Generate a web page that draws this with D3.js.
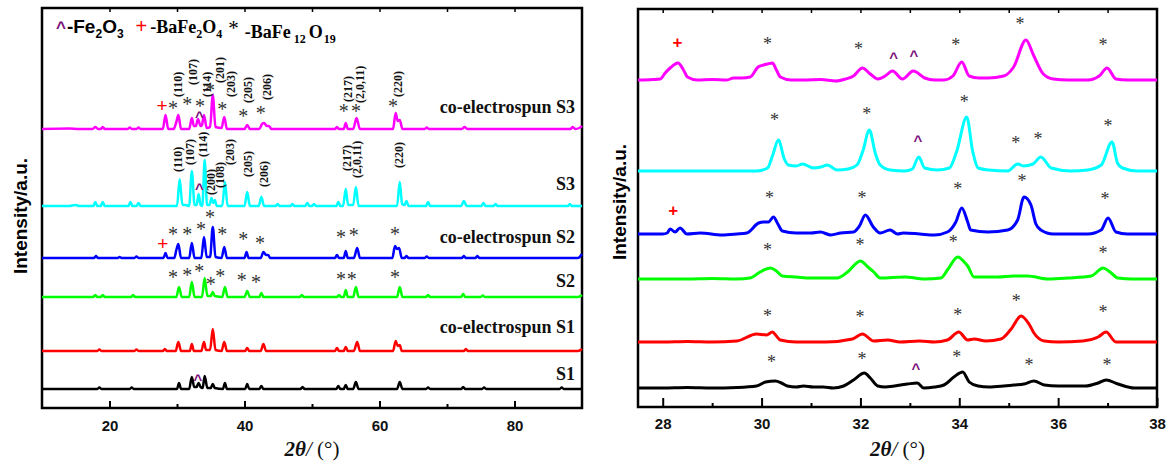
<!DOCTYPE html>
<html>
<head>
<meta charset="utf-8">
<script src="https://cdn.jsdelivr.net/npm/d3@7"></script>
<style>
  body { margin: 0; background: #fff; }
  svg { display: block; }
</style>
</head>
<body>
<div id="xrd"></div>
<script>
// ---- data: [2theta, intensity above the trace baseline] ----
var wideS3  = [[10,0],[14,0.5],[15.5,0],[17.5,0],[17.9,2],[18.3,0],[18.7,0],[19,2],[19.3,0],[22.7,0],[23,1.5],[23.3,0],[24,0],[24.3,1.5],[24.6,0],[27.9,0],[28.3,14],[28.7,0],[29.5,0],[29.9,7],[30.2,14],[30.6,0],[31.8,0],[32.2,11],[32.5,3],[32.8,3],[33.1,10],[33.5,3],[33.7,4],[34.0,14],[34.4,1],[34.9,2],[35.3,34],[35.7,2],[36.6,1],[37.0,12],[37.4,0],[40.0,0],[40.4,4],[40.8,0],[42.2,0],[42.6,5],[42.9,6],[43.3,3],[43.6,3],[44,0],[53.4,0],[53.7,2],[54.0,0],[54.7,0],[55.0,6],[55.3,0],[56.1,0],[56.6,11],[57.1,0],[62.0,0],[62.4,16],[62.7,8],[63.0,9],[63.4,0],[66.7,0],[67,1.5],[67.3,0],[72.2,0],[72.6,2],[73,0],[88.3,0],[88.6,2],[89,0],[89.6,1],[90,3]];
var wideS3p = [[10,0],[14,0],[15,1],[15.5,0],[17.6,0],[17.9,4],[18.2,0],[18.7,0],[19.0,4],[19.3,0],[22.8,0],[23.1,4],[23.4,0],[24.0,0],[24.3,3],[24.6,0],[30.0,0],[30.4,27],[30.8,1],[31.3,1],[31.8,0],[32.2,35],[32.6,1],[32.9,1],[33.2,12],[33.5,1],[33.75,0],[34.1,46],[34.45,1],[34.8,1],[35.1,8],[35.35,3],[35.6,6],[35.9,0],[36.7,0],[37.1,24],[37.5,0],[40.0,0],[40.4,14],[40.8,0],[42.1,0],[42.5,9],[42.9,0],[44.6,0],[44.9,2],[45.2,0],[46.8,0],[47.1,2],[47.4,0],[49.0,0],[49.3,3],[49.6,0],[50.0,0],[50.3,2],[50.6,0],[53.6,0],[53.9,4],[54.2,0],[54.6,0],[55.0,17],[55.35,1],[56.1,1],[56.5,19],[56.9,0],[62.6,0],[63.0,24],[63.35,2],[63.7,1],[64.0,5],[64.3,0],[66.9,0],[67.2,4],[67.5,0],[72.1,0],[72.5,5],[72.9,0],[75.1,0],[75.4,3],[75.7,0],[76.9,0],[77.2,2],[77.5,0],[87.9,0],[88.2,2],[88.5,0],[90,0]];
var wideS2  = [[10,0],[17.7,0],[18,2],[18.3,0],[21.2,0],[21.5,1],[21.8,0],[23.7,0],[24,1.5],[24.3,0],[28.0,0],[28.3,5],[28.6,0],[29.6,0],[29.9,8],[30.2,14],[30.6,0],[31.8,0],[32.2,15],[32.6,0],[33.6,0],[34.0,21],[34.4,1],[34.9,1],[35.3,31],[35.7,1],[36.6,0],[37.0,11],[37.4,0],[40.0,0],[40.3,6],[40.6,0],[42.4,0],[42.8,6],[43.2,3],[43.5,3],[43.8,0],[53.4,0],[53.7,3],[54.0,0],[54.7,0],[55.0,7],[55.3,0],[56.2,0],[56.7,10],[57.1,0],[61.9,0],[62.3,12],[62.6,9],[62.9,10],[63.3,0],[63.7,0],[64,2],[64.3,0],[66.7,0],[67,1.5],[67.3,0],[72.2,0],[72.5,2],[72.8,0],[74.2,0],[74.5,2],[74.8,0],[89.4,0],[90,4]];
var wideS2p = [[10,0],[17.6,0],[17.9,2],[18.2,0],[18.7,0],[19,2],[19.3,0],[23.2,0],[23.5,2],[23.8,0],[29.9,0],[30.3,10],[30.7,0],[31.8,0],[32.2,15],[32.6,0],[33.7,0],[34.1,19],[34.5,1],[35.0,1],[35.3,5],[35.6,1],[36.7,0],[37.1,10],[37.5,0],[40.0,0],[40.4,6],[40.8,0],[42.2,0],[42.5,4],[42.8,0],[48.2,0],[48.5,2],[48.8,0],[53.7,0],[54.0,2],[54.3,0],[54.7,0],[55.0,7],[55.3,0],[56.1,0],[56.5,10],[56.9,0],[62.6,0],[63.0,10],[63.4,0],[66.9,0],[67.2,2],[67.5,0],[72.1,0],[72.4,3],[72.7,0],[75.0,0],[75.3,1.5],[75.6,0],[89.4,0],[90,2]];
var wideS1  = [[10,0],[18.2,0],[18.5,1.5],[18.8,0],[23.7,0],[24,1.5],[24.3,0],[27.9,0],[28.2,2],[28.5,0],[29.8,0],[30.2,9],[30.6,0],[31.9,0],[32.2,7],[32.5,0],[33.6,0],[34.0,9],[34.3,1],[34.9,1],[35.3,22],[35.7,1],[36.6,0],[37.0,9],[37.4,0],[40.1,0],[40.4,3],[40.7,0],[42.4,0],[42.8,7],[43.2,0],[53.4,0],[53.7,3],[54.0,0],[54.7,0],[55.0,4],[55.3,0],[56.2,0],[56.7,9],[57.1,0],[62.0,0],[62.4,10],[62.7,5],[63.0,6],[63.3,0],[72.5,0],[72.8,2],[73.1,0],[89.4,0],[90,2]];
var wideS1p = [[10,0],[18.2,0],[18.5,1.5],[18.8,0],[23.0,0],[23.3,1.5],[23.6,0],[30.0,0],[30.3,6],[30.6,0],[31.8,0],[32.2,12],[32.55,2],[32.9,2],[33.2,6],[33.5,2],[33.8,1],[34.1,13],[34.5,1],[35.0,1],[35.3,5],[35.6,1],[36.8,0],[37.1,6],[37.4,0],[40.1,0],[40.4,5],[40.7,0],[42.2,0],[42.5,3],[42.8,0],[48.3,0],[48.6,2],[48.9,0],[53.6,0],[53.9,3],[54.2,0],[54.7,0],[55.0,4],[55.3,0],[56.1,0],[56.5,7],[56.9,0],[62.6,0],[63.0,7],[63.4,0],[66.9,0],[67.2,1.5],[67.5,0],[72.1,0],[72.4,2],[72.7,0],[75.2,0],[75.5,1.5],[75.8,0],[86.7,0],[87.0,1.5],[87.3,0],[90,0]];

var zoomS3  = [[27.5,0],[27.8,0.5],[27.95,1],[28.05,7],[28.15,12],[28.31,17],[28.42,10],[28.5,3],[28.7,0],[29.0,0.5],[29.3,0],[29.43,2],[29.6,2],[29.77,3],[29.93,13],[30.04,15],[30.12,16],[30.22,17],[30.3,10],[30.38,3],[30.6,0],[30.85,0],[31.2,0.5],[31.5,-1],[31.7,1],[31.86,4],[32.04,12],[32.2,6],[32.35,1],[32.5,4],[32.65,9],[32.85,1],[33.07,9],[33.3,2],[33.5,0],[33.69,0],[33.87,4],[34.05,18],[34.2,4],[34.4,2],[34.58,2],[34.9,4],[35.1,13],[35.35,40],[35.5,25],[35.7,6],[35.9,1],[36.2,0],[36.6,0],[36.83,4],[36.99,12],[37.17,1],[37.4,0],[38,0]];
var zoomS3p = [[27.5,0],[29.0,0],[29.9,0],[30.12,3],[30.22,15],[30.34,31],[30.46,12],[30.54,6],[30.7,5],[30.83,7],[31.05,3],[31.2,4],[31.33,6],[31.53,1],[31.75,2],[31.93,6],[32.05,20],[32.18,41],[32.3,18],[32.4,6],[32.6,1],[32.9,0],[33.05,2],[33.18,14],[33.3,3],[33.56,1],[33.8,3],[33.95,20],[34.15,54],[34.27,20],[34.38,3],[34.6,1],[34.98,0],[35.18,7],[35.3,5],[35.49,7],[35.65,14],[35.86,3],[36.26,0],[36.6,1],[36.87,6],[37.09,29],[37.2,8],[37.3,3],[37.6,0],[38,0]];
var zoomS2  = [[27.5,0],[28.0,0],[28.09,1],[28.15,5],[28.25,2],[28.35,6],[28.49,0],[28.76,1],[29.2,-1],[29.5,0],[29.7,1],[29.94,11],[30.04,12],[30.14,12],[30.24,17],[30.33,10],[30.42,3],[30.7,1],[31.0,1],[31.19,2],[31.4,-1],[31.6,1],[31.86,2],[31.98,8],[32.1,19],[32.26,7],[32.4,1],[32.6,4],[32.75,0],[32.87,1],[33.2,0],[33.5,-1],[33.76,2],[33.93,12],[34.05,26],[34.17,12],[34.23,4],[34.58,2],[34.98,4],[35.18,14],[35.31,37],[35.45,29],[35.55,10],[35.65,4],[35.9,0],[36.3,0],[36.6,0],[36.87,4],[37.01,16],[37.17,2],[37.4,0],[38,0]];
var zoomS2p = [[27.5,0],[28.5,0],[29.0,0.5],[29.5,0],[29.77,1],[29.97,7],[30.18,11],[30.3,8],[30.42,3],[30.7,2],[31.0,1],[31.25,1],[31.53,1],[31.74,7],[32.0,18],[32.15,12],[32.27,7],[32.4,1],[32.9,2],[33.3,0],[33.63,1],[33.76,9],[33.97,22],[34.1,17],[34.17,13],[34.3,2],[34.78,2],[35.1,3],[35.38,3],[35.8,0],[36.2,1],[36.67,3],[36.91,11],[37.05,7],[37.21,1],[37.5,0],[38,0]];
var zoomS1  = [[27.5,0],[28.0,0],[28.5,0.5],[29.0,0],[29.5,1],[29.9,8],[30.1,7],[30.22,10],[30.3,6],[30.38,2],[30.7,0],[31.3,0],[31.84,3],[32.04,8],[32.27,1],[32.55,2],[32.8,0],[33.2,1],[33.5,0],[33.76,2],[33.99,10],[34.17,2],[34.3,3],[34.54,1],[34.84,3],[35.05,13],[35.25,26],[35.41,18],[35.51,9],[35.72,1],[36.0,0],[36.5,1],[36.81,5],[36.97,10],[37.17,0],[37.5,0],[38,0]];
var zoomS1p = [[27.5,0],[28.0,0],[28.5,0.5],[29.0,0],[29.5,0.5],[29.9,2],[30.08,6],[30.28,7],[30.4,5],[30.52,2],[30.7,1],[30.85,2],[31.05,1],[31.25,1],[31.45,0],[31.66,2],[31.86,8],[32.08,15],[32.2,10],[32.35,2],[32.5,1],[32.95,4],[33.15,5],[33.28,0],[33.5,1],[33.69,3],[33.89,11],[34.07,16],[34.2,6],[34.38,2],[34.6,1],[34.9,2],[35.1,3],[35.31,4],[35.51,7],[35.72,3],[36.0,2],[36.26,2],[36.55,2],[36.81,5],[36.97,8],[37.21,4],[37.54,0],[38,0]];

var sampleNames = ["co-electrospun S3", "S3", "co-electrospun S2", "S2", "co-electrospun S1", "S1"];
var wideSeries = [wideS3, wideS3p, wideS2, wideS2p, wideS1, wideS1p];
var zoomSeries = [zoomS3, zoomS3p, zoomS2, zoomS2p, zoomS1, zoomS1p];

// phase marks: [trace index, 2theta, height above trace baseline]
var wideStars = [[0,29.4,23],[0,31.5,27],[0,33.4,25],[0,34.9,41],[0,36.7,22],[0,39.8,15],[0,42.4,18],[0,54.7,20],[0,56.5,20],[0,62.0,25],
  [2,29.4,26],[2,31.5,26],[2,33.55,31],[2,34.9,43],[2,36.7,26],[2,39.8,21],[2,42.3,17],[2,54.3,23],[2,56.2,25],[2,62.3,26],
  [3,29.4,22],[3,31.5,24],[3,33.3,28],[3,35.0,15],[3,36.4,23],[3,39.6,19],[3,41.7,17],[3,54.3,20],[3,55.9,20],[3,62.3,22]];
var wideCarets = [[0,33.3,15],[1,33.3,20],[5,33.1,12]];
var widePlus = [[0,27.8,24],[2,27.9,15]];
// hkl labels: [trace index, label, 2theta, height of label foot above baseline]
var hklLabels = [[0,"(110)",30.15,32],[0,"(107)",32.4,44],[0,"(114)",34.4,32],[0,"(201)",36.4,46],[0,"(203)",38.0,32],[0,"(205)",40.5,26],[0,"(206)",43.3,29],[0,"(217)",55.3,27],[0,"(2,0,11)",57.1,26],[0,"(220)",62.7,32],
  [1,"(110)",30.15,34],[1,"(107)",31.9,41],[1,"(114)",33.85,49],[1,"(200)",35.0,11],[1,"(108)",36.4,18],[1,"(203)",37.85,41],[1,"(205)",40.5,29],[1,"(206)",42.9,19],[1,"(217)",55.2,35],[1,"(2,0,11)",56.7,28],[1,"(220)",62.9,38]];

var zoomStars = [[0,30.12,38],[0,31.96,33],[0,33.93,37],[0,35.23,58],[0,36.91,37],
  [1,30.26,53],[1,32.13,59],[1,34.1,71],[1,35.14,30],[1,35.59,34],[1,37.01,47],
  [2,30.16,38],[2,32.03,38],[2,33.97,47],[2,35.27,55],[2,36.95,37],
  [3,30.12,31],[3,31.99,36],[3,33.88,39],[3,36.91,28],
  [4,30.12,28],[4,31.99,27],[4,33.97,29],[4,35.15,43],[4,36.91,32],
  [5,30.2,28],[5,32.03,31],[5,33.95,33],[5,35.41,25],[5,36.99,25]];
var zoomCarets = [[0,32.67,25],[0,33.08,27],[1,33.16,33],[5,33.12,22]];
var zoomPlus = [[0,28.3,38],[2,28.21,24]];

// ---- layout ----
var colors = ["#ff00ff", "#00ffff", "#0000ff", "#00ff00", "#ff0000", "#000000"];
var wideOffsets = [279, 202, 150, 111, 57, 19];
var zoomOffsets = [327, 236, 173, 128, 65, 19];
var labelBase = [16, 16, 15, 10, 18, 9];

var serif = "'Times New Roman','Liberation Serif',serif";
var sans = "Arial,'Liberation Sans',sans-serif";

var svg = d3.select("#xrd").append("svg")
  .attr("width", 1168).attr("height", 464);

var xL = d3.scaleLinear().domain([10, 90]).range([42, 582]);
var yL = d3.scaleLinear().domain([0, 400]).range([408, 8]);
var xR = d3.scaleLinear().domain([27.5, 38]).range([638, 1157]);
var yR = d3.scaleLinear().domain([0, 398]).range([407, 9]);

function drawAxes(x, y, majors, minors, tops, majLen, pad) {
  var g = svg.append("g");
  var y0 = y.range()[0];
  var top = y.range()[1];
  var ax = g.append("g").attr("transform", "translate(0," + y0 + ")")
    .call(d3.axisBottom(x).tickValues(majors).tickSize(-majLen).tickPadding(pad).tickFormat(d3.format("d")));
  ax.select(".domain").remove();
  ax.selectAll("line").attr("stroke-width", 2);
  ax.selectAll("text").attr("font-family", sans).attr("font-weight", "bold").attr("font-size", 15).attr("fill", "#111");
  var mn = g.append("g").attr("transform", "translate(0," + y0 + ")")
    .call(d3.axisBottom(x).tickValues(minors).tickSize(-4).tickFormat(""));
  mn.select(".domain").remove();
  mn.selectAll("line").attr("stroke-width", 2);
  var tp = g.append("g").attr("transform", "translate(0," + top + ")")
    .call(d3.axisTop(x).tickValues(tops).tickSize(-4).tickFormat(""));
  tp.select(".domain").remove();
  tp.selectAll("line").attr("stroke-width", 1.5);
  g.append("rect")
    .attr("x", x.range()[0]).attr("y", top)
    .attr("width", x.range()[1] - x.range()[0]).attr("height", y0 - top)
    .attr("fill", "none").attr("stroke", "#000").attr("stroke-width", 2.5);
}

function drawTraces(x, y, series, offsets, width) {
  var line = d3.line()
    .x(function(d) { return x(d[0]); })
    .curve(d3.curveMonotoneX);
  svg.append("g").selectAll("path")
    .data(series)
    .enter().append("path")
      .attr("fill", "none")
      .attr("stroke", function(d, i) { return colors[i]; })
      .attr("stroke-width", width)
      .attr("stroke-linejoin", "round")
      .attr("d", function(d, i) {
        return line.y(function(p) { return y(p[1] + offsets[i]); })(d);
      });
}

function drawMarks(x, y, offsets, list, glyph, fill, size, family, weight, lift) {
  svg.append("g").selectAll("text")
    .data(list)
    .enter().append("text")
      .attr("x", function(d) { return x(d[1]); })
      .attr("y", function(d) { return y(d[2] + offsets[d[0]]) + lift * size; })
      .attr("text-anchor", "middle")
      .attr("font-family", family)
      .attr("font-weight", weight)
      .attr("font-size", size)
      .attr("fill", fill)
      .text(glyph);
}

// ---- left panel: full range ----
drawAxes(xL, yL, [20, 40, 60, 80], [30, 50, 70], [20, 30, 40, 50, 60, 70, 80], 7, 12);
drawTraces(xL, yL, wideSeries, wideOffsets, 2.5);

svg.append("g").selectAll("text")
  .data(hklLabels)
  .enter().append("text")
    .attr("transform", function(d) {
      return "translate(" + xL(d[2]) + "," + yL(d[3] + wideOffsets[d[0]]) + ") rotate(-90)";
    })
    .attr("dy", "0.35em")
    .attr("font-family", serif)
    .attr("font-weight", "bold")
    .attr("font-size", 12)
    .attr("fill", "#111")
    .text(function(d) { return d[1]; });

drawMarks(xL, yL, wideOffsets, wideStars, "*", "#333", 20, serif, "normal", 0.47);
drawMarks(xL, yL, wideOffsets, wideCarets, "^", "#7a0f7a", 15, sans, "bold", 0.53);
drawMarks(xL, yL, wideOffsets, widePlus, "+", "#ff0000", 19, sans, "normal", 0.35);

svg.append("g").selectAll("text")
  .data(sampleNames)
  .enter().append("text")
    .attr("x", xL.range()[1] - 7)
    .attr("y", function(d, i) { return yL(wideOffsets[i] + labelBase[i]); })
    .attr("text-anchor", "end")
    .attr("font-family", serif)
    .attr("font-weight", "bold")
    .attr("font-size", 18)
    .attr("fill", "#111")
    .text(function(d) { return d; });

// legend, one flowing line with subscripts
var leg = svg.append("text").attr("x", 56).attr("y", 33).attr("font-weight", "bold").attr("fill", "#000");
function legPart(txt, opts) {
  var t = leg.append("tspan").text(txt)
    .attr("font-family", opts.serif ? serif : sans)
    .attr("font-size", opts.size || (opts.serif ? 18 : 19));
  if (opts.dx) t.attr("dx", opts.dx);
  if (opts.dy) t.attr("dy", opts.dy);
  if (opts.fill) t.attr("fill", opts.fill);
  if (opts.normal) t.attr("font-weight", "normal");
  return t;
}
legPart("^", {fill: "#7a0f7a", size: 17});
legPart("-Fe", {dx: 1});
legPart("2", {size: 12, dy: 5});
legPart("O", {dy: -5});
legPart("3", {size: 12, dy: 5});
legPart("+", {dx: 12, dy: -5, fill: "#ff0000", size: 20, normal: true});
legPart("-BaFe", {serif: true, dx: 3});
legPart("2", {serif: true, size: 12, dy: 5});
legPart("O", {serif: true, dy: -5});
legPart("4", {serif: true, size: 12, dy: 5});
legPart("*", {serif: true, dx: 6, dy: -3, size: 21, normal: true});
legPart("-BaFe", {serif: true, dx: 6, dy: 3});
legPart("12", {serif: true, size: 12, dx: 3, dy: 5});
legPart("O", {serif: true, dx: 3, dy: -5});
legPart("19", {serif: true, size: 12, dx: 1, dy: 5});

// ---- right panel: 27.5 - 38 ----
drawAxes(xR, yR, [28, 30, 32, 34, 36, 38], [29, 31, 33, 35, 37], [28, 29, 30, 31, 32, 33, 34, 35, 36, 37], 9, 11);
drawTraces(xR, yR, zoomSeries, zoomOffsets, 3);
drawMarks(xR, yR, zoomOffsets, zoomStars, "*", "#333", 18, serif, "normal", 0.47);
drawMarks(xR, yR, zoomOffsets, zoomCarets, "^", "#7a0f7a", 15, sans, "bold", 0.53);
drawMarks(xR, yR, zoomOffsets, zoomPlus, "+", "#ff0000", 17, sans, "bold", 0.35);

// axis titles
[[xL, 20, 216], [xR, 619, 202]].forEach(function(a) {
  var xs = a[0];
  var t = svg.append("text")
    .attr("x", (xs.range()[0] + xs.range()[1]) / 2)
    .attr("y", 456)
    .attr("text-anchor", "middle")
    .attr("font-family", serif)
    .attr("font-size", 21)
    .attr("fill", "#111");
  t.append("tspan").attr("font-style", "italic").attr("font-weight", "bold").text("2θ");
  t.append("tspan").attr("font-style", "italic").text("/");
  t.append("tspan").text(" (°)");

  svg.append("text")
    .attr("transform", "translate(" + a[1] + "," + a[2] + ") rotate(-90)")
    .attr("dy", "0.35em")
    .attr("text-anchor", "middle")
    .attr("font-family", sans)
    .attr("font-weight", "bold")
    .attr("font-size", 19)
    .attr("fill", "#000")
    .text("Intensity/a.u.");
});
</script>
</body>
</html>
